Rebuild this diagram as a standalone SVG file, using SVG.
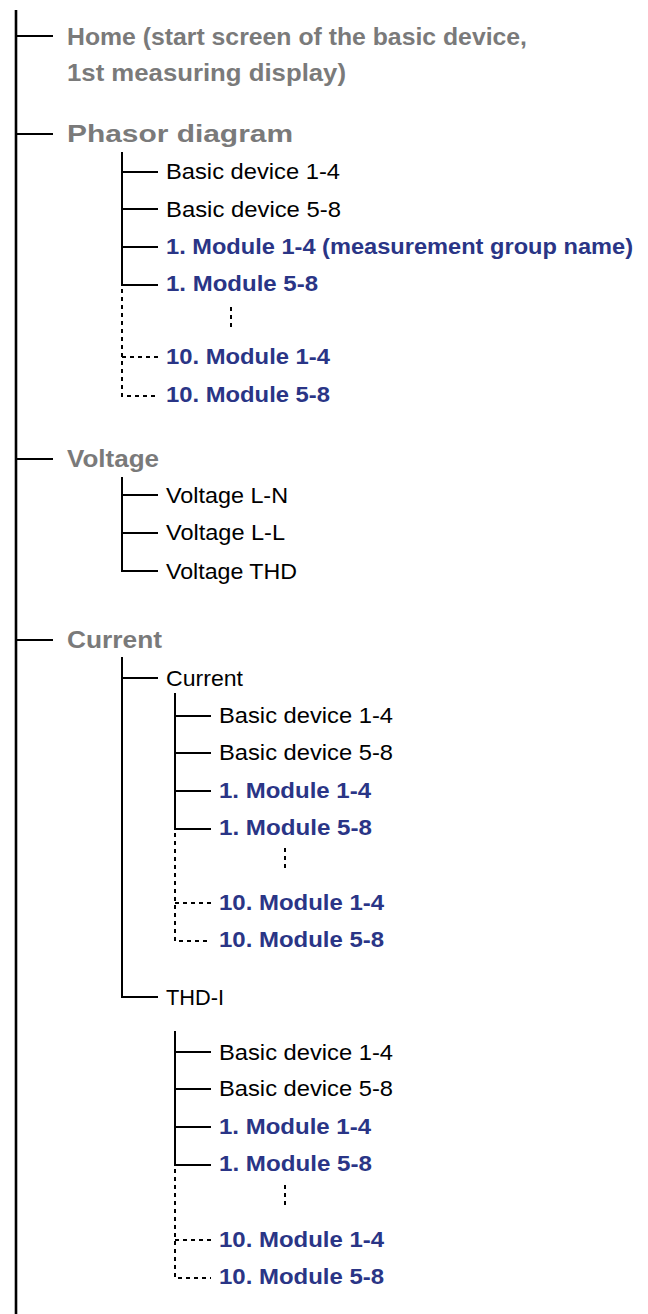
<svg xmlns="http://www.w3.org/2000/svg" width="648" height="1314" viewBox="0 0 648 1314">
<style>
.ln{stroke:#000;stroke-width:2;fill:none}
.main{stroke:#000;stroke-width:2.6;fill:none}
.dt{stroke:#000;stroke-width:2;fill:none;stroke-dasharray:4 4}
.g{font-family:"Liberation Sans",Arial,sans-serif;font-weight:bold;font-size:24px;fill:#7a7a7a}
.k{font-family:"Liberation Sans",Arial,sans-serif;font-size:22.5px;fill:#000}
.b{font-family:"Liberation Sans",Arial,sans-serif;font-weight:bold;font-size:22.5px;fill:#2a3586}
</style>
<rect width="648" height="1314" fill="#fff"/>
<g id="connectors">
<line class="main" x1="16" y1="10" x2="16" y2="1314"/>
<line class="ln" x1="16" y1="36" x2="53" y2="36"/>
<line class="ln" x1="16" y1="134" x2="53" y2="134"/>
<line class="ln" x1="16" y1="459" x2="53" y2="459"/>
<line class="ln" x1="16" y1="640" x2="53" y2="640"/>
<line class="ln" x1="122" y1="152" x2="122" y2="285"/>
<line class="ln" x1="122" y1="172" x2="158" y2="172"/>
<line class="ln" x1="122" y1="209" x2="158" y2="209"/>
<line class="ln" x1="122" y1="247" x2="158" y2="247"/>
<line class="ln" x1="121" y1="285" x2="158" y2="285"/>
<path class="dt" d="M122 289 V396 H158"/>
<line class="dt" x1="122" y1="357" x2="158" y2="357"/>
<line class="dt" x1="231" y1="307" x2="231" y2="331"/>
<path class="ln" d="M122 477 V571 H158"/>
<line class="ln" x1="122" y1="495" x2="158" y2="495"/>
<line class="ln" x1="122" y1="533" x2="158" y2="533"/>
<path class="ln" d="M122 657 V997 H158"/>
<line class="ln" x1="122" y1="678" x2="158" y2="678"/>
<line class="ln" x1="175" y1="693" x2="175" y2="829"/>
<line class="ln" x1="175" y1="716" x2="211" y2="716"/>
<line class="ln" x1="175" y1="753" x2="211" y2="753"/>
<line class="ln" x1="175" y1="791" x2="211" y2="791"/>
<line class="ln" x1="174" y1="829" x2="211" y2="829"/>
<path class="dt" d="M175 833 V941 H211"/>
<line class="dt" x1="175" y1="903" x2="211" y2="903"/>
<line class="dt" x1="285" y1="848" x2="285" y2="872"/>
<line class="ln" x1="175" y1="1031" x2="175" y2="1165"/>
<line class="ln" x1="175" y1="1052" x2="211" y2="1052"/>
<line class="ln" x1="175" y1="1089" x2="211" y2="1089"/>
<line class="ln" x1="175" y1="1127" x2="211" y2="1127"/>
<line class="ln" x1="174" y1="1165" x2="211" y2="1165"/>
<path class="dt" d="M175 1169 V1278 H211"/>
<line class="dt" x1="175" y1="1240" x2="211" y2="1240"/>
<line class="dt" x1="285" y1="1185" x2="285" y2="1209"/>
</g>
<g id="home"><text class="g" x="67" y="45" textLength="460" lengthAdjust="spacingAndGlyphs">Home (start screen of the basic device,</text><text class="g" x="67" y="81" textLength="279" lengthAdjust="spacingAndGlyphs">1st measuring display)</text></g>
<g id="phasor"><text class="g" x="67" y="142" textLength="226" lengthAdjust="spacingAndGlyphs">Phasor diagram</text></g>
<g id="ph-bd14"><text class="k" x="166" y="179" textLength="174" lengthAdjust="spacingAndGlyphs">Basic device 1-4</text></g>
<g id="ph-bd58"><text class="k" x="166" y="217" textLength="175" lengthAdjust="spacingAndGlyphs">Basic device 5-8</text></g>
<g id="ph-m1-14"><text class="b" x="166" y="254" textLength="467" lengthAdjust="spacingAndGlyphs">1. Module 1-4 (measurement group name)</text></g>
<g id="ph-m1-58"><text class="b" x="166" y="291" textLength="152" lengthAdjust="spacingAndGlyphs">1. Module 5-8</text></g>
<g id="ph-m10-14"><text class="b" x="166" y="364" textLength="164" lengthAdjust="spacingAndGlyphs">10. Module 1-4</text></g>
<g id="ph-m10-58"><text class="b" x="166" y="402" textLength="164" lengthAdjust="spacingAndGlyphs">10. Module 5-8</text></g>
<g id="voltage"><text class="g" x="67" y="467" textLength="92" lengthAdjust="spacingAndGlyphs">Voltage</text></g>
<g id="v-ln"><text class="k" x="166" y="503" textLength="122" lengthAdjust="spacingAndGlyphs">Voltage L-N</text></g>
<g id="v-ll"><text class="k" x="166" y="540" textLength="119" lengthAdjust="spacingAndGlyphs">Voltage L-L</text></g>
<g id="v-thd"><text class="k" x="166" y="579" textLength="131" lengthAdjust="spacingAndGlyphs">Voltage THD</text></g>
<g id="current"><text class="g" x="67" y="648" textLength="95" lengthAdjust="spacingAndGlyphs">Current</text></g>
<g id="c-current"><text class="k" x="166" y="686" textLength="77" lengthAdjust="spacingAndGlyphs">Current</text></g>
<g id="c-bd14"><text class="k" x="219" y="723" textLength="174" lengthAdjust="spacingAndGlyphs">Basic device 1-4</text></g>
<g id="c-bd58"><text class="k" x="219" y="760" textLength="174" lengthAdjust="spacingAndGlyphs">Basic device 5-8</text></g>
<g id="c-m1-14"><text class="b" x="219" y="798" textLength="152" lengthAdjust="spacingAndGlyphs">1. Module 1-4</text></g>
<g id="c-m1-58"><text class="b" x="219" y="835" textLength="153" lengthAdjust="spacingAndGlyphs">1. Module 5-8</text></g>
<g id="c-m10-14"><text class="b" x="219" y="910" textLength="165" lengthAdjust="spacingAndGlyphs">10. Module 1-4</text></g>
<g id="c-m10-58"><text class="b" x="219" y="947" textLength="165" lengthAdjust="spacingAndGlyphs">10. Module 5-8</text></g>
<g id="thdi"><text class="k" x="166" y="1005" textLength="58" lengthAdjust="spacingAndGlyphs">THD-I</text></g>
<g id="t-bd14"><text class="k" x="219" y="1060" textLength="174" lengthAdjust="spacingAndGlyphs">Basic device 1-4</text></g>
<g id="t-bd58"><text class="k" x="219" y="1096" textLength="174" lengthAdjust="spacingAndGlyphs">Basic device 5-8</text></g>
<g id="t-m1-14"><text class="b" x="219" y="1134" textLength="152" lengthAdjust="spacingAndGlyphs">1. Module 1-4</text></g>
<g id="t-m1-58"><text class="b" x="219" y="1171" textLength="153" lengthAdjust="spacingAndGlyphs">1. Module 5-8</text></g>
<g id="t-m10-14"><text class="b" x="219" y="1247" textLength="165" lengthAdjust="spacingAndGlyphs">10. Module 1-4</text></g>
<g id="t-m10-58"><text class="b" x="219" y="1284" textLength="165" lengthAdjust="spacingAndGlyphs">10. Module 5-8</text></g>
</svg>
